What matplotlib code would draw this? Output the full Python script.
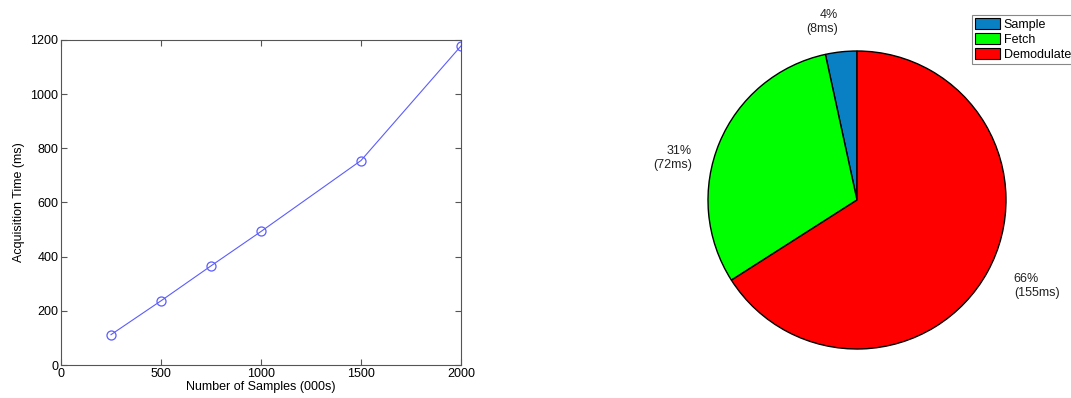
import numpy as np
import matplotlib.pyplot as plt

plt.rcParams['font.family'] = ['Liberation Sans', 'DejaVu Sans']

# acquisition time vs. number of samples
n_samples = [250, 500, 750, 1000, 1500, 2000]
acq_time = [112, 237, 366, 493, 755, 1178]

# time breakdown of one acquisition (ms)
stages = ['Sample', 'Fetch', 'Demodulate']
stage_ms = [8, 72, 155]
stage_pct = [4, 31, 66]
stage_colors = ['#0a80c4', '#00ff00', '#ff0000']

fig = plt.figure(figsize=(10.71, 3.98), dpi=100)

#%%
# Left: acquisition time curve
ax = fig.add_axes([61/1071, 1 - 365/398, 400/1071, 325/398])
ax.plot(n_samples, acq_time, '-o', color='#5c5cff', lw=0.8,
        mfc='none', mec='#5c5cff', ms=6.5, mew=0.9)
ax.set_xlim(0, 2000)
ax.set_ylim(0, 1200)
ax.set_xticks([0, 500, 1000, 1500, 2000])
ax.set_yticks(np.arange(0, 1201, 200))
ax.tick_params(direction='in', top=True, right=True, labelsize=9, length=4,
               color='#555555', pad=2)
for s in ax.spines.values():
    s.set_color('#555555')
    s.set_linewidth(0.8)
ax.set_xlabel('Number of Samples (000s)', fontsize=9, labelpad=1)
ax.set_ylabel('Acquisition Time (ms)', fontsize=9, labelpad=4)

#%%
# Right: pie of the processing stages
r_px = 149
side = 2.5 * r_px
axp = fig.add_axes([(857 - side/2)/1071, 1 - (200 + side/2)/398,
                    side/1071, side/398])
labels = ['%d%%\n(%dms)' % (p, m) for p, m in zip(stage_pct, stage_ms)]
wedges, texts = axp.pie(stage_ms, colors=stage_colors, startangle=90,
                        counterclock=True, labels=labels, labeldistance=1.2,
                        wedgeprops=dict(edgecolor='black', linewidth=1.0),
                        textprops=dict(fontsize=9, color='#222222'))
# drop the Fetch label a bit so it sits beside the wedge
x, y = texts[1].get_position()
texts[1].set_position((x, y - 0.18))
axp.set_xlim(-1.25, 1.25)
axp.set_ylim(-1.25, 1.25)
axp.set_aspect('equal')

leg = fig.legend(wedges, stages, loc='upper left',
                 bbox_to_anchor=(972/1071, 1 - 15/398), fontsize=9,
                 fancybox=False, edgecolor='#888888', framealpha=1,
                 borderpad=0.25, labelspacing=0.15, handlelength=2.0,
                 handleheight=1.0, handletextpad=0.3, borderaxespad=0)
leg.get_frame().set_linewidth(0.8)
for h in leg.legend_handles:
    h.set_edgecolor('black')
    h.set_linewidth(0.8)

fig.savefig('out.png', dpi=100)
